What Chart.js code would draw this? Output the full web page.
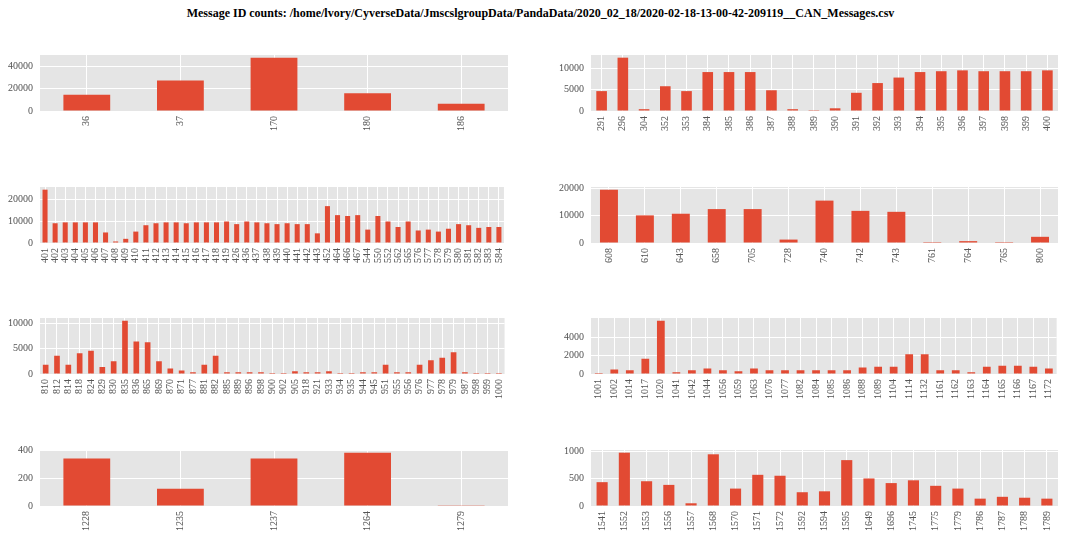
<!DOCTYPE html>
<html>
<head>
<meta charset="utf-8">
<script src="https://cdn.jsdelivr.net/npm/chart.js@4.4.1/dist/chart.umd.min.js"></script>
<style>
  body { margin: 0; width: 1067px; height: 540px; background: #fff; position: relative; overflow: hidden; }
  #title { position: absolute; left: 7px; top: 6px; width: 1067px; text-align: center; font: bold 12px "Liberation Serif", serif; color: #000; }
  .panel { position: absolute; }
</style>
</head>
<body>
<div id="title">Message ID counts: /home/lvory/CyverseData/JmscslgroupData/PandaData/2020_02_18/2020-02-18-13-00-42-209119__CAN_Messages.csv</div>
<script>
// données : un tableau par panneau
const ids1 = ['36', '37', '170', '180', '186'];
const counts1 = [14600, 27300, 47600, 15900, 6500];
const ticks1 = [0, 20000, 40000];

const ids2 = ['291', '296', '304', '352', '353', '384', '385', '386', '387', '388', '389', '390', '391', '392', '393', '394', '395', '396', '397', '398', '399', '400'];
const counts2 = [4700, 12600, 430, 5850, 4700, 9200, 9200, 9200, 4900, 430, 200, 640, 4300, 6600, 7900, 9200, 9400, 9600, 9400, 9400, 9400, 9600];
const ticks2 = [0, 5000, 10000];

const ids3 = ['401', '402', '403', '404', '405', '406', '407', '408', '409', '410', '411', '412', '413', '414', '415', '416', '417', '418', '419', '426', '436', '437', '438', '439', '440', '441', '442', '443', '452', '464', '466', '467', '544', '550', '552', '562', '565', '576', '577', '578', '579', '580', '581', '582', '583', '584'];
const counts3 = [24300, 9000, 9400, 9400, 9400, 9400, 4800, 700, 1900, 5200, 8100, 9000, 9400, 9400, 9000, 9400, 9400, 9400, 9800, 8600, 9800, 9400, 9000, 8600, 9000, 8600, 8600, 4400, 16800, 12700, 12300, 12700, 6100, 12300, 9800, 7300, 9800, 5700, 6100, 5200, 6500, 8600, 8100, 6900, 7300, 7300];
const ticks3 = [0, 10000, 20000];

const ids4 = ['608', '610', '643', '658', '705', '728', '740', '742', '743', '761', '764', '765', '800'];
const counts4 = [19500, 10100, 10700, 12400, 12400, 1250, 15500, 11750, 11400, 340, 680, 340, 2260];
const ticks4 = [0, 10000, 20000];

const ids5 = ['810', '812', '814', '818', '824', '829', '830', '835', '836', '865', '869', '870', '871', '877', '881', '882', '885', '889', '896', '898', '900', '902', '905', '918', '921', '933', '934', '935', '944', '945', '951', '955', '956', '976', '977', '978', '979', '987', '998', '999', '1000'];
const counts5 = [1800, 3600, 1800, 4100, 4600, 1400, 2500, 10500, 6400, 6250, 2500, 1070, 700, 360, 1800, 3600, 360, 360, 360, 360, 180, 180, 540, 360, 360, 540, 180, 180, 360, 360, 1800, 360, 360, 1800, 2700, 3200, 4300, 360, 180, 180, 180];
const ticks5 = [0, 5000, 10000];

const ids6 = ['1001', '1002', '1014', '1017', '1020', '1041', '1042', '1044', '1056', '1059', '1063', '1076', '1077', '1082', '1084', '1085', '1086', '1088', '1089', '1104', '1114', '1132', '1161', '1162', '1163', '1164', '1165', '1166', '1167', '1172'];
const counts6 = [100, 500, 400, 1670, 5800, 200, 400, 600, 400, 300, 600, 400, 400, 400, 400, 400, 400, 700, 800, 800, 2160, 2160, 400, 400, 200, 800, 900, 900, 800, 600];
const ticks6 = [0, 2000, 4000];

const ids7 = ['1228', '1235', '1237', '1264', '1279'];
const counts7 = [339, 124, 339, 381, 6];
const ticks7 = [0, 200, 400];

const ids8 = ['1541', '1552', '1553', '1556', '1557', '1568', '1570', '1571', '1572', '1592', '1594', '1595', '1649', '1696', '1745', '1775', '1779', '1786', '1787', '1788', '1789'];
const counts8 = [438, 980, 455, 388, 50, 950, 320, 573, 556, 253, 270, 843, 506, 421, 472, 371, 320, 135, 169, 152, 135];
const ticks8 = [0, 500, 1000];

// zones de tracé (gauche, haut, largeur, hauteur)
const panels = [
    { labels: ids1, values: counts1, ticks: ticks1, box: [40, 50, 468, 61] },
    { labels: ids2, values: counts2, ticks: ticks2, box: [591, 50, 467, 61] },
    { labels: ids3, values: counts3, ticks: ticks3, box: [40, 182, 468, 61] },
    { labels: ids4, values: counts4, ticks: ticks4, box: [591, 182, 467, 61] },
    { labels: ids5, values: counts5, ticks: ticks5, box: [40, 313, 468, 61] },
    { labels: ids6, values: counts6, ticks: ticks6, box: [591, 313, 467, 61] },
    { labels: ids7, values: counts7, ticks: ticks7, box: [40, 445, 468, 61] },
    { labels: ids8, values: counts8, ticks: ticks8, box: [591, 445, 467, 61] }
];

const Y_AXIS_W = 40;
const X_AXIS_H = 30;
const PAD_TOP = 8;
const PAD_RIGHT = 8;

const SERIF = 'TickSerif, "Liberation Serif", serif';
Chart.defaults.font.family = SERIF;
const tickFont = { family: SERIF, size: 10 };

// fond gris façon ggplot
const plotBg = {
    id: 'plotBg',
    beforeDraw(chart) {
        const a = chart.chartArea;
        chart.ctx.save();
        chart.ctx.fillStyle = '#E5E5E5';
        chart.ctx.fillRect(a.left, a.top, a.right - a.left, a.bottom - a.top);
        chart.ctx.restore();
    }
};

function makePanel(p) {
    const [x, y, w, h] = p.box;
    const wrap = document.createElement('div');
    wrap.className = 'panel';
    wrap.style.left = (x - Y_AXIS_W) + 'px';
    wrap.style.top = (y - PAD_TOP) + 'px';
    wrap.style.width = (Y_AXIS_W + w + PAD_RIGHT) + 'px';
    wrap.style.height = (PAD_TOP + h + X_AXIS_H) + 'px';
    const canvas = document.createElement('canvas');
    wrap.appendChild(canvas);
    document.body.appendChild(wrap);

    return new Chart(canvas, {
        type: 'bar',
        data: {
            labels: p.labels,
            datasets: [{
                data: p.values,
                backgroundColor: '#E24A33',
                categoryPercentage: 1,
                barPercentage: 0.5
            }]
        },
        options: {
            responsive: true,
            maintainAspectRatio: false,
            animation: false,
            layout: { padding: { top: PAD_TOP, right: PAD_RIGHT, left: 0, bottom: 0 } },
            plugins: { legend: { display: false }, tooltip: { enabled: false } },
            scales: {
                x: {
                    grid: { color: '#FFFFFF', lineWidth: 1, offset: false, drawTicks: false },
                    border: { display: false },
                    ticks: { autoSkip: false, minRotation: 90, maxRotation: 90, color: '#555555', font: tickFont, padding: 5 },
                    afterFit: s => { s.height = X_AXIS_H; }
                },
                y: {
                    min: 0,
                    max: Math.max(...p.values) * 1.05,
                    grid: { color: '#FFFFFF', lineWidth: 1, drawTicks: false },
                    border: { display: false },
                    ticks: { color: '#555555', font: tickFont, padding: 7, callback: v => String(v) },
                    afterBuildTicks: s => { s.ticks = p.ticks.map(v => ({ value: v })); },
                    afterFit: s => { s.width = Y_AXIS_W; }
                }
            }
        },
        plugins: [plotBg]
    });
}

// police locale enregistrée pour le canvas, puis dessin
function drawAll() { panels.forEach(makePanel); }
const face = new FontFace('TickSerif', 'local("Liberation Serif"), local("LiberationSerif"), local("Liberation Serif Regular"), local("LiberationSerif-Regular")');
face.load().then(f => {
    document.fonts.add(f);
    drawAll();
}).catch(() => drawAll());
</script>
</body>
</html>
